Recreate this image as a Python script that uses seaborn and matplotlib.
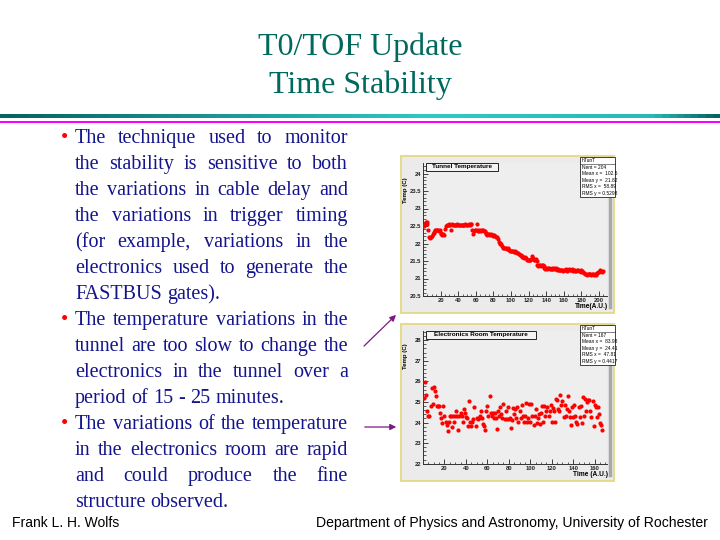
import numpy as np
import matplotlib
matplotlib.use("Agg")
import matplotlib.pyplot as plt
import seaborn as sns
from matplotlib.patches import Rectangle, FancyArrowPatch
from matplotlib.lines import Line2D
from matplotlib.colors import LinearSegmentedColormap

# ---------------- data ----------------
tunnel_temp = [
    22.50, 22.55, 22.62, 22.62, 22.55, 22.38, 22.20, 22.15, 22.18, 22.22,
    22.28, 22.30, 22.32, 22.38, 22.38, 22.40, 22.38, 22.37, 22.38, 22.30,
    22.26, 22.25, 22.28, 22.24, 22.42, 22.50, 22.52, 22.53, 22.55, 22.54,
    22.53, 22.38, 22.55, 22.54, 22.53, 22.54, 22.52, 22.53, 22.55, 22.54,
    22.52, 22.53, 22.54, 22.53, 22.52, 22.54, 22.53, 22.55, 22.54, 22.53,
    22.54, 22.56, 22.53, 22.55, 22.57, 22.38, 22.28, 22.36, 22.38, 22.40,
    22.55, 22.37, 22.38, 22.36, 22.38, 22.37, 22.40, 22.38, 22.36, 22.35,
    22.30, 22.27, 22.25, 22.27, 22.26, 22.25, 22.27, 22.24, 22.22, 22.23,
    22.24, 22.22, 22.20, 22.18, 22.12, 22.05, 22.02, 22.00, 21.98, 21.92,
    21.88, 21.87, 21.86, 21.87, 21.85, 21.86, 21.84, 21.82, 21.80, 21.79,
    21.78, 21.80, 21.77, 21.78, 21.76, 21.75, 21.74, 21.72, 21.70, 21.68,
    21.66, 21.62, 21.63, 21.62, 21.60, 21.61, 21.58, 21.52, 21.53, 21.52,
    21.54, 21.52, 21.56, 21.65, 21.60, 21.54, 21.52, 21.56, 21.50, 21.38,
    21.36, 21.40, 21.38, 21.37, 21.40, 21.38, 21.35, 21.30, 21.28, 21.30,
    21.28, 21.29, 21.30, 21.27, 21.28, 21.30, 21.28, 21.27, 21.29, 21.26,
    21.30, 21.25, 21.27, 21.24, 21.25, 21.23, 21.25, 21.24, 21.22, 21.25,
    21.23, 21.26, 21.24, 21.22, 21.25, 21.28, 21.24, 21.23, 21.26, 21.22,
    21.25, 21.24, 21.22, 21.21, 21.23, 21.25, 21.22, 21.21, 21.24, 21.20,
    21.22, 21.20, 21.15, 21.12, 21.13, 21.11, 21.12, 21.14, 21.12, 21.13,
    21.11, 21.12, 21.13, 21.11, 21.14, 21.12, 21.10, 21.15, 21.20, 21.18,
    21.24, 21.22, 21.20, 21.21,
]
tunnel_time = np.arange(1, len(tunnel_temp) + 1)

room_temp = [
    25.20, 25.97, 25.33, 24.55, 24.30, 24.30, 24.80, 25.70, 24.90, 25.75,
    25.55, 25.30, 24.80, 24.80, 24.80, 24.45, 24.20, 24.00, 24.80, 24.30,
    24.05, 23.90, 23.60, 24.05, 24.30, 24.30, 23.80, 24.30, 24.05, 24.30,
    24.55, 24.30, 23.65, 24.30, 24.45, 24.30, 24.05, 24.65, 24.45, 24.25,
    24.20, 23.85, 25.05, 24.05, 23.85, 24.05, 24.15, 24.75, 23.85, 24.20,
    24.15, 24.20, 24.30, 24.55, 24.20, 23.95, 23.85, 23.65, 24.55, 24.80,
    24.30, 25.28, 24.45, 24.30, 24.45, 24.20, 24.45, 24.20, 23.70, 24.55,
    24.30, 24.75, 24.40, 24.20, 24.90, 24.15, 24.55, 24.15, 24.75, 24.15,
    24.20, 23.75, 24.10, 24.70, 24.40, 24.65, 24.20, 24.75, 24.05, 24.55,
    24.20, 24.85, 24.30, 24.05, 24.30, 24.95, 24.05, 24.20, 24.90, 24.05,
    24.90, 24.30, 23.90, 24.30, 24.65, 24.00, 24.20, 24.40, 23.95, 24.45,
    24.80, 24.05, 24.80, 24.30, 24.55, 24.75, 24.30, 24.55, 24.85, 24.05,
    24.70, 24.55, 24.05, 25.15, 25.10, 24.65, 24.55, 25.33, 24.85, 25.05,
    24.25, 24.85, 24.30, 24.65, 25.28, 24.55, 24.25, 23.90, 24.75, 24.25,
    24.85, 24.30, 24.05, 23.95, 24.75, 24.25, 24.80, 24.00, 25.25, 24.30,
    25.15, 24.55, 25.00, 25.08, 25.08, 24.55, 24.25, 25.05, 23.85, 24.85,
    24.75, 24.25, 24.75, 24.40, 24.00, 23.90, 23.65,
]
room_time = np.arange(1, len(room_temp) + 1)

tunnel_yticks = [20.5, 21, 21.5, 22, 22.5, 23, 23.5, 24]
tunnel_yticklabels = ["20.5", "21", "21.5", "22", "22.5", "23", "23.5", "24"]
tunnel_xticks = [20, 40, 60, 80, 100, 120, 140, 160, 180, 200]
room_yticks = [22, 23, 24, 25, 26, 27, 28]
room_yticklabels = ["22", "23", "24", "25", "26", "27", "28"]
room_xticks = [20, 40, 60, 80, 100, 120, 140, 160]

tunnel_stats = ["hTunT", "Nent = 204", "Mean x =  102.5", "Mean y =  21.82",
                "RMS x =  58.89", "RMS y = 0.5298"]
room_stats = ["hTunT", "Nent = 167", "Mean x =  83.98", "Mean y =  24.41",
              "RMS x =  47.81", "RMS y = 0.4417"]

title_lines = ["T0/TOF Update", "Time Stability"]
bullets = [
    ["The technique used to monitor",
     "the stability is sensitive to both",
     "the variations in cable delay and",
     "the variations in trigger timing",
     "(for example, variations in the",
     "electronics used to generate the",
     "FASTBUS gates)."],
    ["The temperature variations in the",
     "tunnel are too slow to change the",
     "electronics in the tunnel over a",
     "period of 15 - 25 minutes."],
    ["The variations of the temperature",
     "in the electronics room are rapid",
     "and could produce the fine",
     "structure observed."],
]
footer_left = "Frank L. H. Wolfs"
footer_right = "Department of Physics and Astronomy, University of Rochester"

# ---------------- figure ----------------
plt.rcParams['font.family'] = ['Liberation Sans', 'DejaVu Sans']
W, H = 720, 540
fig = plt.figure(figsize=(7.2, 5.4), dpi=100)
fig.patch.set_facecolor('white')


def fx(x):
    return x / W


def fy(y):
    return 1 - y / H


SERIF = ['Liberation Serif', 'DejaVu Serif']
TEAL = '#00695f'
NAVY = '#14148c'

# title
fig.text(fx(360), fy(47), title_lines[0], ha='center', va='center',
         fontsize=23, color=TEAL, family=SERIF)
fig.text(fx(360), fy(85), title_lines[1], ha='center', va='center',
         fontsize=23, color=TEAL, family=SERIF)

# rule bars
bar_ax = fig.add_axes([0, fy(118.5), 1, (118.5 - 113.5) / H])
grad = np.concatenate([np.linspace(0, 1, 60), np.linspace(1, 0.85, 30),
                       np.linspace(0.85, 0, 10)])
cm = LinearSegmentedColormap.from_list('tb', ['#08625e', '#2fc8c8'])
bar_ax.imshow(grad[np.newaxis, :], aspect='auto', cmap=cm,
              extent=[0, 1, 0, 1])
bar_ax.set_axis_off()
fig.add_artist(Rectangle((0, fy(123.2)), 1, (123.2 - 120.8) / H,
                         transform=fig.transFigure, facecolor='#ff00ff',
                         edgecolor='none'))

# bullets text with justification
renderer = fig.canvas.get_renderer()
X0, X1 = 75, 348
line_y = 137
space_px = 0.25 * 14.5 * 100 / 72
for para in bullets:
    fig.text(fx(61), fy(line_y + 6), "\u2022", ha='left', va='baseline',
             fontsize=15, color='#ff0000', family=SERIF)
    for i, line in enumerate(para):
        words = line.split(' ')
        texts = [fig.text(0, 0, w, ha='left', va='baseline', fontsize=14.5,
                          color=NAVY, family=SERIF) for w in words]
        widths = [t.get_window_extent(renderer).width for t in texts]
        justify = i < len(para) - 1 and len(words) > 1
        if justify:
            gap = (X1 - X0 - sum(widths)) / (len(words) - 1)
        else:
            gap = space_px
        x = X0
        for t, w in zip(texts, widths):
            t.set_position((fx(x), fy(line_y + 6)))
            x += w + gap
        line_y += 26

# footer
fig.text(fx(12), fy(523), footer_left, ha='left', va='center', fontsize=10,
         color='black')
fig.text(fx(708), fy(523), footer_right, ha='right', va='center',
         fontsize=10.1, color='black')

# arrows
for (a, b) in [((362, 348), (398, 313)), ((362, 427), (399, 427))]:
    fig.add_artist(FancyArrowPatch((fx(a[0]), fy(a[1])), (fx(b[0]), fy(b[1])),
                                   transform=fig.transFigure,
                                   arrowstyle='-|>', mutation_scale=9,
                                   color='#7a1a80', lw=0.9))


def panel(top, bot, ax_top, ax_bot, x, y, xlim, ylim, xticks, yticks,
          yticklabels, minor_x, minor_y, title, title_right, stats, xlabel,
          ylabel_top):
    # outer pad
    fig.add_artist(Rectangle((fx(401), fy(bot)), (614 - 401) / W, (bot - top) / H,
                             transform=fig.transFigure, facecolor='#ebebeb',
                             edgecolor='#e4da80', lw=1.3, zorder=0))
    ax = fig.add_axes([fx(423), fy(ax_bot), (607 - 423) / W, (ax_bot - ax_top) / H])
    ax.set_facecolor('#eeeeee')
    sns.scatterplot(x=x, y=y, ax=ax, color='#ff0000', s=9, linewidth=0,
                    legend=False, zorder=3)
    ax.set_xlim(*xlim)
    ax.set_ylim(*ylim)
    ax.set_xticks(xticks)
    ax.set_xticklabels([str(v) for v in xticks])
    ax.set_yticks(yticks)
    ax.set_yticklabels(yticklabels)
    ax.set_xticks(minor_x, minor=True)
    ax.set_yticks(minor_y, minor=True)
    ax.tick_params(which='major', direction='in', length=3.5, width=0.6,
                   labelsize=4.2, pad=1.5, colors='#222222')
    ax.tick_params(which='minor', direction='in', length=1.8, width=0.5,
                   colors='#222222')
    for lab in ax.get_xticklabels() + ax.get_yticklabels():
        lab.set_fontweight('bold')
    ax.set_xlabel('')
    ax.set_ylabel('')
    for s in ['top', 'right']:
        ax.spines[s].set_visible(False)
    for s in ['left', 'bottom']:
        ax.spines[s].set_color('#333333')
        ax.spines[s].set_linewidth(0.7)
    # right shadow line
    fig.add_artist(Line2D([fx(609.5), fx(609.5)], [fy(top + 2), fy(bot - 6)],
                          transform=fig.transFigure, color='#a8a8a8', lw=2.5))
    # title box
    fig.add_artist(Rectangle((fx(426), fy(ax_top + 7.5)), (title_right - 426) / W,
                             7.5 / H, transform=fig.transFigure,
                             facecolor='#f4f4f4', edgecolor='#222222', lw=0.7,
                             zorder=5))
    fig.text(fx((426 + title_right) / 2), fy(ax_top + 3.8), title, ha='center',
             va='center', fontsize=4.6, fontweight='bold', zorder=6)
    # stats box
    sb_top = top + 1
    fig.add_artist(Rectangle((fx(580), fy(sb_top + 40)), (615 - 580) / W, 40 / H,
                             transform=fig.transFigure, facecolor='white',
                             edgecolor='#222222', lw=0.6, zorder=5))
    for i, s in enumerate(stats):
        fig.text(fx(581.5), fy(sb_top + 3.6 + i * 6.5), s, ha='left',
                 va='center', fontsize=3.5, zorder=6)
    fig.add_artist(Line2D([fx(580), fx(615)], [fy(sb_top + 7), fy(sb_top + 7)],
                          transform=fig.transFigure, color='#222222', lw=0.4,
                          zorder=6))
    # axis labels
    fig.text(fx(406), fy(ylabel_top), 'Temp (C)', rotation=90, ha='center',
             va='top', fontsize=4.4, fontweight='bold')
    fig.text(fx(608), fy(ax_bot + 11), xlabel, ha='right', va='center',
             fontsize=4.8, fontweight='bold')
    return ax


panel(156, 313, 163, 296, tunnel_time, tunnel_temp, (0, 209), (20.5, 24.3),
      tunnel_xticks, tunnel_yticks, tunnel_yticklabels,
      np.arange(5, 209, 5), np.arange(20.6, 24.3, 0.1),
      'Tunnel Temperature', 498, tunnel_stats, 'Time(A.U.)', 177)

panel(324, 481, 331, 463.7, room_time, room_temp, (0, 171.5), (22, 28.45),
      room_xticks, room_yticks, room_yticklabels,
      np.arange(5, 171, 5), np.arange(22.2, 28.45, 0.2),
      'Electronics Room Temperature', 536, room_stats, 'Time (A.U.)', 343)

fig.savefig('out.png', dpi=100, facecolor='white')
